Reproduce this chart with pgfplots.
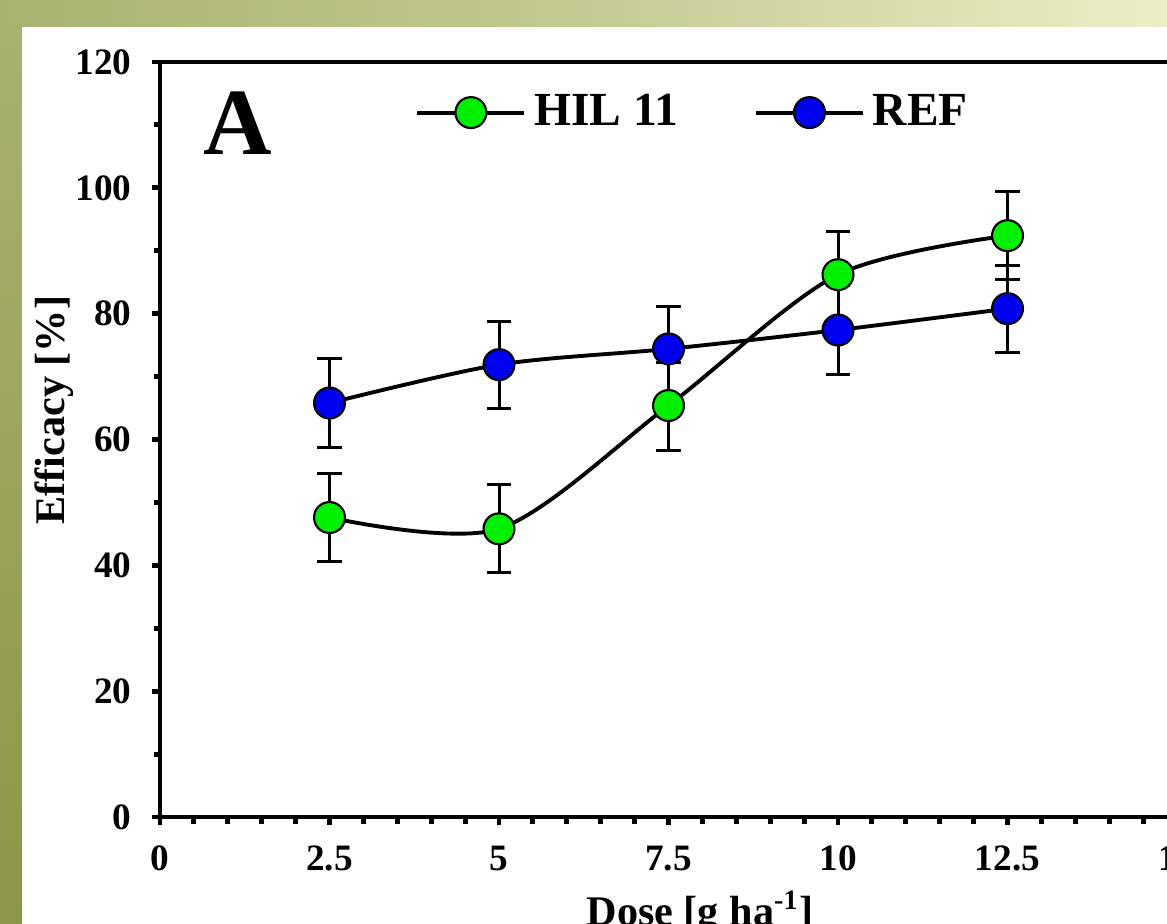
\documentclass[border=0pt]{standalone}
\usepackage{pgfplots}
\pgfplotsset{compat=1.18}
\usepackage{fontspec}
\setmainfont{Liberation Serif}

\definecolor{hilgreen}{RGB}{0,240,0}
\definecolor{refblue}{RGB}{0,0,240}
\definecolor{oliveA}{RGB}{168,178,112}
\definecolor{oliveB}{RGB}{140,150,70}
\definecolor{paleband}{RGB}{236,238,198}

\pgfplotsset{
  errs/.style={forget plot, draw=none, mark=none,
    error bars/y dir=both,
    error bars/y explicit,
    error bars/error bar style={draw=black, line width=0.85pt},
    error bars/error mark options={draw=black, rotate=90, mark size=3.5pt, line width=0.85pt}},
  curve/.style={black, line width=1.1pt, smooth, mark=*, mark size=4.4pt,
    mark options={fill=#1, draw=black, line width=0.6pt}},
}

\begin{document}
\begin{tikzpicture}[x=1cm,y=1cm]
  % page frame, 1px = 0.01cm
  \useasboundingbox (0,0) rectangle (11.67,9.23);
  \fill[oliveB] (0,0) rectangle (11.67,9.23);
  \shade[left color=oliveA, right color=paleband, middle color=oliveA!60!paleband] (0,8.96) rectangle (11.67,9.23);
  \shade[top color=oliveA, bottom color=oliveB] (0,0) rectangle (0.22,8.96);
  \fill[white] (0.22,0) rectangle (11.67,8.96);
  \clip (0,0) rectangle (11.67,9.23);

  \begin{axis}[
    at={(1.60cm,1.06cm)}, anchor=south west,
    scale only axis,
    width=10.17cm, height=7.55cm,
    xmin=0, xmax=15, ymin=0, ymax=120,
    xtick={0,2.5,5,7.5,10,12.5,15},
    xticklabels={0,2.5,5,7.5,10,12.5,15},
    minor x tick num=4,
    ytick={0,20,...,120},
    minor y tick num=1,
    tick pos=left,
    tick align=outside,
    major tick length=0.08cm,
    minor tick length=0.065cm,
    every tick/.style={black, line width=1.4pt},
    axis line style={line width=1.4pt},
    /pgf/number format/assume math mode=true,
    ticklabel style={font=\fontsize{10.6}{12}\selectfont\bfseries},
    xticklabel style={inner sep=0pt, anchor=north, yshift=-0.2cm},
    yticklabel style={inner sep=0pt, anchor=east, xshift=-0.2cm},
    xlabel={Dose [g ha\textsuperscript{-1}]},
    ylabel={Efficacy [\%]},
    every axis x label/.style={at={(rel axis cs:0.531,0)}, anchor=base, yshift=-1.08cm,
      font=\fontsize{12}{14}\selectfont\bfseries},
    every axis y label/.style={at={(rel axis cs:0,0.539)}, xshift=-0.96cm, rotate=90, anchor=base,
      font=\fontsize{12}{14}\selectfont\bfseries},
    legend columns=2,
    legend image code/.code={
      \draw[#1, mark repeat=2, mark phase=2] plot coordinates {(0cm,0cm) (0.535cm,0cm) (1.07cm,0cm)};
    },
    legend style={
      at={(rel axis cs:0.2505,0.933)}, anchor=west,
      draw=none, fill=none, inner sep=0pt,
      font=\fontsize{13.5}{15}\selectfont\bfseries,
      nodes={inner sep=0pt, anchor=west},
      /tikz/every odd column/.append style={column sep=0.08cm},
      /tikz/every even column/.append style={column sep=0.76cm},
    },
  ]

  % error bars first, so that all markers sit on top of them
  \addplot[errs] coordinates {
      (2.5, 47.6) += (0, 7.0) -= (0, 7.0)
      (5.0, 45.8) += (0, 7.0) -= (0, 7.0)
      (7.5, 65.4) += (0, 6.8) -= (0, 7.2)
      (10.0, 86.2) += (0, 6.8) -= (0, 7.4)
      (12.5, 92.4) += (0, 7.0) -= (0, 7.0)
    };
  \addplot[errs] coordinates {
      (2.5, 65.8) += (0, 7.0) -= (0, 7.0)
      (5.0, 71.9) += (0, 6.9) -= (0, 6.9)
      (7.5, 74.4) += (0, 6.8) -= (0, 7.6)
      (10.0, 77.4) += (0, 7.0) -= (0, 7.0)
      (12.5, 80.8) += (0, 6.9) -= (0, 6.9)
    };

  % HIL 11
  \addplot[curve=hilgreen] coordinates {
      (2.5, 47.6) (5.0, 45.8) (7.5, 65.4) (10.0, 86.2) (12.5, 92.4)
    };
  \addlegendentry{HIL 11}

  % REF
  \addplot[curve=refblue] coordinates {
      (2.5, 65.8) (5.0, 71.9) (7.5, 74.4) (10.0, 77.4) (12.5, 80.8)
    };
  \addlegendentry{REF}

  \node[anchor=base, font=\fontsize{27}{30}\selectfont\bfseries] at (rel axis cs:0.0767,0.877) {A};
  \end{axis}
\end{tikzpicture}
\end{document}
